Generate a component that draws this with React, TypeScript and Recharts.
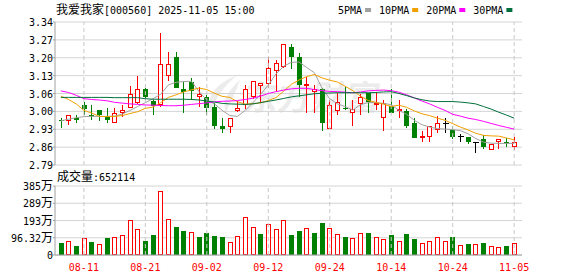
import React from 'react';
import { ComposedChart, Bar, Line, XAxis, YAxis, CartesianGrid, ReferenceLine } from 'recharts';

// ---------- data ----------
const dates = [
  '08-06','08-07','08-08','08-11','08-12','08-13','08-14','08-15','08-18','08-19',
  '08-20','08-21','08-22','08-25','08-26','08-27','08-28','08-29','09-01','09-02',
  '09-03','09-04','09-05','09-08','09-09','09-10','09-11','09-12','09-15','09-16',
  '09-17','09-18','09-19','09-22','09-23','09-24','09-25','09-26','09-29','09-30',
  '10-09','10-10','10-13','10-14','10-15','10-16','10-17','10-20','10-21','10-22',
  '10-23','10-24','10-27','10-28','10-29','10-30','10-31','11-03','11-04','11-05',
];
const opens = [
  2.962,2.963,2.971,3.022,2.983,3.001,2.980,2.954,2.993,3.012,
  3.030,3.081,3.035,3.021,3.136,3.207,3.082,3.110,3.053,3.050,
  3.014,2.940,2.940,3.001,3.021,3.053,3.095,3.104,3.155,3.168,
  3.243,3.204,3.099,3.072,3.081,2.930,3.001,3.009,2.991,3.025,
  3.066,3.021,2.973,3.017,3.001,2.999,2.950,2.896,2.899,2.927,
  2.950,2.925,2.899,2.896,2.876,2.889,2.850,2.880,2.877,2.861,
];
const highs = [
  2.972,2.981,2.982,3.034,3.019,3.001,3.008,3.008,3.019,3.094,
  3.132,3.085,3.040,3.299,3.225,3.225,3.110,3.126,3.091,3.059,
  3.027,2.970,2.970,3.036,3.098,3.110,3.102,3.204,3.194,3.255,
  3.255,3.219,3.130,3.098,3.085,3.040,3.068,3.091,3.040,3.063,
  3.068,3.072,3.040,3.081,3.040,3.004,2.970,2.921,2.937,2.980,
  2.970,2.940,2.908,2.896,2.876,2.905,2.867,2.889,2.893,2.896,
];
const lows = [
  2.931,2.943,2.950,2.982,2.963,2.960,2.953,2.954,2.976,3.012,
  3.025,3.040,2.982,3.012,3.113,3.085,2.991,3.040,3.012,2.982,
  2.928,2.912,2.912,2.995,3.004,3.043,3.027,3.085,3.072,3.162,
  3.160,3.053,2.991,2.991,2.922,2.930,2.982,3.001,2.940,2.982,
  2.991,3.001,2.922,2.991,2.970,2.931,2.893,2.880,2.880,2.912,
  2.912,2.890,2.880,2.869,2.837,2.850,2.850,2.850,2.861,2.848,
];
const closes = [
  2.960,2.981,2.963,3.004,2.980,2.982,2.963,2.989,3.001,3.062,
  3.081,3.050,3.017,3.175,3.175,3.085,3.072,3.076,3.063,3.010,
  2.940,2.930,2.970,3.008,3.081,3.110,3.102,3.162,3.181,3.255,
  3.204,3.098,3.101,3.082,2.953,3.020,3.031,3.007,3.005,3.050,
  3.034,3.027,3.027,2.991,3.004,2.940,2.893,2.898,2.937,2.950,
  2.950,2.897,2.899,2.880,2.876,2.861,2.867,2.889,2.875,2.876,
];
const ma5 = [
  2.960,2.966,2.972,2.976,2.977,2.977,2.977,2.978,2.986,3.000,
  3.015,3.030,3.045,3.062,3.098,3.108,3.111,3.112,3.072,3.040,
  3.025,3.000,2.980,2.977,3.000,3.030,3.062,3.097,3.140,3.170,
  3.185,3.186,3.165,3.145,3.085,3.045,3.025,3.015,3.001,3.022,
  3.030,3.030,3.027,3.022,3.000,2.985,2.962,2.945,2.936,2.930,
  2.928,2.926,2.922,2.910,2.892,2.878,2.874,2.873,2.873,2.873,
];
const ma10 = [
  3.055,3.042,3.025,3.000,2.990,2.977,2.976,2.977,2.980,2.988,
  2.995,3.008,3.013,3.030,3.050,3.060,3.071,3.079,3.086,3.080,
  3.066,3.054,3.050,3.033,3.024,3.026,3.029,3.038,3.049,3.074,
  3.100,3.117,3.130,3.138,3.125,3.116,3.109,3.093,3.076,3.055,
  3.038,3.031,3.024,3.015,3.020,3.012,2.998,2.987,2.980,2.970,
  2.962,2.949,2.936,2.925,2.912,2.904,2.902,2.901,2.894,2.887,
];
const ma20 = [
  3.075,3.069,3.058,3.045,3.042,3.040,3.037,3.031,3.028,3.025,
  3.023,3.021,3.020,3.019,3.018,3.018,3.020,3.023,3.026,3.029,
  3.033,3.035,3.036,3.038,3.042,3.047,3.055,3.065,3.072,3.078,
  3.083,3.085,3.085,3.080,3.076,3.073,3.072,3.070,3.068,3.071,
  3.075,3.077,3.078,3.076,3.070,3.060,3.048,3.036,3.025,3.012,
  3.000,2.985,2.978,2.970,2.965,2.958,2.950,2.942,2.935,2.928,
];
const ma30 = [
  3.050,3.050,3.050,3.050,3.050,3.050,3.050,3.049,3.049,3.049,
  3.049,3.045,3.043,3.043,3.043,3.043,3.043,3.042,3.040,3.036,
  3.032,3.027,3.025,3.024,3.023,3.025,3.030,3.035,3.040,3.046,
  3.052,3.056,3.060,3.064,3.066,3.067,3.068,3.068,3.068,3.068,
  3.068,3.069,3.071,3.072,3.065,3.057,3.048,3.041,3.036,3.034,
  3.034,3.034,3.032,3.029,3.025,3.015,3.005,2.993,2.982,2.970,
];
const volumes = [
  689000,782000,503000,931000,726000,614000,949000,986000,1098000,1936000,
  1433000,782000,1117000,3555000,1991000,1563000,1340000,1266000,1005000,1228000,
  1061000,1005000,707000,1042000,2103000,1545000,1173000,1731000,1433000,1936000,
  1117000,1340000,1489000,1247000,1787000,1489000,1173000,1005000,931000,1228000,
  1228000,986000,893000,1117000,782000,1173000,893000,670000,782000,986000,
  782000,1005000,540000,614000,614000,689000,484000,447000,503000,652114,
];
// 1 = up day (red hollow volume bar), 0 = down day (green)
const volUp = [
  0,1,0,1,0,1,0,1,1,1,
  1,0,0,1,1,0,0,1,0,0,
  0,0,1,1,1,1,0,1,1,1,
  0,0,1,0,0,1,1,0,1,1,
  0,1,1,0,1,0,0,1,1,1,
  1,0,1,0,1,0,1,1,0,1,
];
const labelDates = ['08-11','08-21','09-02','09-12','09-24','10-14','10-24','11-05'];
const priceMin = 2.79;
const priceMax = 3.34;
const priceTickLabels = ['2.79','2.86','2.93','3.00','3.06','3.13','3.20','3.27','3.34'];
const volMax = 3852800;
const volTickValues = [0, 963200, 1926400, 2889600, 3852800];
const volTickLabels = ['0','96.32万','193万','289万','385万'];
const stockTitle = '我爱我家[000560] 2025-11-05 15:00';
const volTitle = '成交量:';
const legendNames = ['5PMA','10PMA','20PMA','30PMA'];
const maColors = ['#a0a0a0','#f0a000','#ff00ff','#00703c'];
const watermark = '东方财富';

// ---------- styling ----------
const MONO = "'DejaVu Sans Mono', monospace";
const CJK = "'Noto Sans CJK SC', sans-serif";
const FRAME = '#a0a0a0';
const GRID = '#d4d4d4';
const RED = '#ff0000';
const GREEN = '#008000';
const PAD = { left: 2, right: 4 };

const priceStep = (priceMax - priceMin) / (priceTickLabels.length - 1);
const priceTicks = priceTickLabels.map((_, i) => priceMin + i * priceStep);

const data = dates.map((d, i) => ({
  date: d,
  open: opens[i],
  high: highs[i],
  low: lows[i],
  close: closes[i],
  range: [lows[i], highs[i]],
  ma5: ma5[i],
  ma10: ma10[i],
  ma20: ma20[i],
  ma30: ma30[i],
  vol: volumes[i],
  up: volUp[i],
}));

function runs(text: string) {
  const out: { t: string; cjk: boolean }[] = [];
  for (const ch of text) {
    const cjk = ch.charCodeAt(0) > 0x2e80;
    const last = out[out.length - 1];
    if (last && last.cjk === cjk) last.t += ch;
    else out.push({ t: ch, cjk });
  }
  return out;
}

const MixedText = ({ x, y, text, anchor = 'start', fill = '#000' }: any) => (
  <text x={x} y={y + 4} textAnchor={anchor} fill={fill}>
    {runs(text).map((r, i) => (
      <tspan key={i} fontFamily={r.cjk ? CJK : MONO} fontSize={r.cjk ? 12 : 10}>
        {r.t}
      </tspan>
    ))}
  </text>
);

const PriceTick = (props: any) => {
  const { x, y, payload } = props;
  const idx = Math.round((payload.value - priceMin) / priceStep);
  return <MixedText x={x} y={y} text={priceTickLabels[idx] ?? ''} anchor="end" />;
};

const VolTick = (props: any) => {
  const { x, y, payload } = props;
  const idx = volTickValues.findIndex((v) => Math.abs(v - payload.value) < 1);
  return <MixedText x={x} y={y} text={idx >= 0 ? volTickLabels[idx] : ''} anchor="end" />;
};

const DateTick = (props: any) => {
  const { x, y, payload } = props;
  if (!labelDates.includes(payload.value)) return <g />;
  return <MixedText x={x} y={y + 12} text={payload.value} anchor="middle" fill={RED} />;
};

const Candle = (props: any) => {
  const { x, y, width, height, payload } = props;
  if (x == null || y == null || !payload) return <g />;
  const { open, close, high, low } = payload;
  const top = Math.min(y, y + height);
  const bot = Math.max(y, y + height);
  const span = high - low;
  const py = (v: number) => (span > 0 ? top + ((high - v) / span) * (bot - top) : top);
  const cx = Math.round(x + width / 2) + 0.5;
  const yo = py(open);
  const yc = py(close);
  if (close > open) {
    return (
      <g shapeRendering="crispEdges">
        <line x1={cx} x2={cx} y1={top} y2={bot} stroke={RED} />
        <rect x={cx - 2} y={yc} width={4} height={Math.max(1, yo - yc)} fill="#fff" stroke={RED} />
      </g>
    );
  }
  if (close < open) {
    return (
      <g shapeRendering="crispEdges">
        <line x1={cx} x2={cx} y1={top} y2={bot} stroke={GREEN} />
        <rect x={cx - 2.5} y={yo} width={5} height={Math.max(1, yc - yo)} fill={GREEN} />
      </g>
    );
  }
  return (
    <g shapeRendering="crispEdges">
      <line x1={cx} x2={cx} y1={top} y2={bot} stroke="#000" />
      <line x1={cx - 3} x2={cx + 3} y1={yo} y2={yo} stroke="#000" />
    </g>
  );
};

const VolBar = (props: any) => {
  const { x, y, width, height, payload } = props;
  if (x == null || y == null || !payload) return <g />;
  const cx = Math.round(x + width / 2) + 0.5;
  const top = Math.min(y, y + height);
  const h = Math.abs(height);
  if (payload.up) {
    return (
      <rect shapeRendering="crispEdges" x={cx - 2} y={top + 0.5} width={4} height={Math.max(0, h - 1)}
        fill="#fff" stroke={RED} />
    );
  }
  return <rect shapeRendering="crispEdges" x={cx - 2.5} y={top} width={5} height={h} fill={GREEN} />;
};

const frameAxes = (domain: number[]) => [
  <XAxis key="tx" xAxisId="top" orientation="top" dataKey="date" tick={false} tickLine={false}
    height={0} axisLine={{ stroke: FRAME }} padding={PAD} />,
  <YAxis key="ry" yAxisId="right" orientation="right" width={0} tick={false} tickLine={false}
    axisLine={{ stroke: FRAME }} domain={domain} allowDataOverflow />,
];

export default function App() {
  const last = volumes[volumes.length - 1];
  let lx = 338;
  const legend = legendNames.map((name, i) => {
    const tx = lx;
    const sx = tx + name.length * 6.02 + 3;
    lx = sx + 6 + 8;
    return (
      <g key={name}>
        <MixedText x={tx} y={10} text={name} />
        <rect x={sx} y={8} width={6} height={4} fill={maColors[i]} />
      </g>
    );
  });

  return (
    <div style={{ position: 'absolute', left: 0, top: 0, width: 578, height: 276, background: '#fff', overflow: 'hidden' }}>
      <svg width={578} height={276} style={{ position: 'absolute', left: 0, top: 0 }}>
        <path d="M236 76 C214 84 204 100 212 113 C214 100 222 88 236 76 Z M240 80 C226 92 222 104 226 113 C230 102 236 92 240 80 Z"
          fill="#ececec" />
        <text x={244} y={110} fontFamily={CJK} fontSize={34} fontWeight={700} fill="#ececec"
          transform="skewX(-8) translate(14 0)">
          {watermark}
        </text>
      </svg>
      <div style={{ position: 'absolute', left: 0, top: 0 }}>
        <ComposedChart width={578} height={170} data={data} margin={{ top: 22, right: 56, bottom: 5, left: 0 }}>
          <CartesianGrid vertical={false} stroke={GRID} />
          <XAxis dataKey="date" tick={false} tickLine={false} height={0} axisLine={{ stroke: FRAME }} padding={PAD} />
          <YAxis domain={[priceMin, priceMax]} ticks={priceTicks} interval={0} width={55} tickSize={2} tickMargin={0}
            tick={<PriceTick />} axisLine={{ stroke: FRAME }} tickLine={{ stroke: FRAME }} allowDataOverflow />
          {frameAxes([priceMin, priceMax])}
          {labelDates.map((d) => (
            <ReferenceLine key={d} x={d} stroke="#c8c8c8" strokeDasharray="4 3" />
          ))}
          <Bar dataKey="range" barSize={5} shape={(p: any) => <Candle {...p} />} isAnimationActive={false} />
          <Line dataKey="ma5" stroke={maColors[0]} strokeWidth={1} dot={false} activeDot={false} isAnimationActive={false} />
          <Line dataKey="ma10" stroke={maColors[1]} strokeWidth={1} dot={false} activeDot={false} isAnimationActive={false} />
          <Line dataKey="ma20" stroke={maColors[2]} strokeWidth={1} dot={false} activeDot={false} isAnimationActive={false} />
          <Line dataKey="ma30" stroke={maColors[3]} strokeWidth={1} dot={false} activeDot={false} isAnimationActive={false} />
        </ComposedChart>
      </div>
      <div style={{ position: 'absolute', left: 0, top: 170 }}>
        <ComposedChart width={578} height={106} data={data} margin={{ top: 16, right: 56, bottom: 0, left: 0 }}>
          <CartesianGrid vertical={false} stroke={GRID} />
          <XAxis dataKey="date" interval={0} height={21} tickSize={0} tickMargin={0} tick={<DateTick />}
            tickLine={false} axisLine={{ stroke: FRAME }} padding={PAD} />
          <YAxis domain={[0, volMax]} ticks={volTickValues} interval={0} width={55} tickSize={2} tickMargin={0}
            tick={<VolTick />} axisLine={{ stroke: FRAME }} tickLine={{ stroke: FRAME }} allowDataOverflow />
          {frameAxes([0, volMax])}
          {labelDates.map((d) => (
            <ReferenceLine key={d} x={d} stroke="#c8c8c8" strokeDasharray="4 3" />
          ))}
          <Bar dataKey="vol" barSize={5} shape={(p: any) => <VolBar {...p} />} isAnimationActive={false} />
        </ComposedChart>
      </div>
      <svg width={578} height={276} style={{ position: 'absolute', left: 0, top: 0, pointerEvents: 'none' }}>
        <MixedText x={56} y={10} text={stockTitle} />
        {legend}
        <MixedText x={57} y={177} text={`${volTitle}${last}`} />
      </svg>
    </div>
  );
}
